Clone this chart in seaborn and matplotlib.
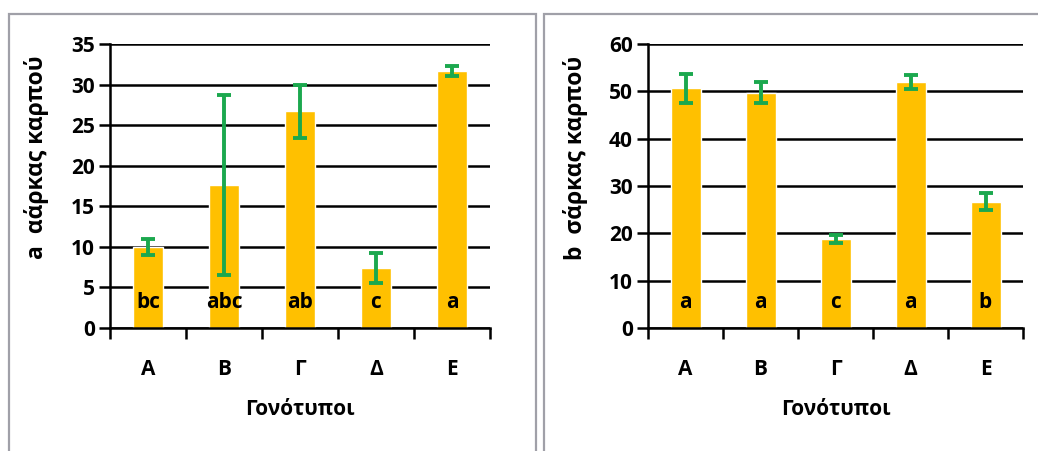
import matplotlib
matplotlib.use("Agg")
import matplotlib.pyplot as plt
import matplotlib.transforms as mtransforms
from matplotlib.patches import Rectangle
import seaborn as sns
import pandas as pd

genotypes = ["Α", "Β", "Γ", "Δ", "Ε"]

a_values = [10.0, 17.6, 26.7, 7.4, 31.7]
a_errors = [0.95, 11.1, 3.3, 1.85, 0.65]
a_letters = ["bc", "abc", "ab", "c", "a"]

b_values = [50.6, 49.7, 18.8, 51.9, 26.7]
b_errors = [3.0, 2.2, 0.9, 1.5, 1.8]
b_letters = ["a", "a", "c", "a", "b"]

sns.set_theme(style="white")
plt.rcParams["font.family"] = ["Open Sans", "DejaVu Sans"]
plt.rcParams["font.weight"] = "bold"

bar_color = "#FFC000"
err_color = "#1BA84E"

fig = plt.figure(figsize=(10.38, 4.51), dpi=100)

# grey panel frames
W, H = 1038, 451
for x0, x1 in [(9, 536), (544, 1045)]:
    fig.patches.append(Rectangle((x0 / W, -0.05), (x1 - x0) / W, 1.05 - 14 / H,
                                 transform=fig.transFigure, fill=False,
                                 edgecolor="#A0A0A8", linewidth=1.6))

panels = [
    ([110 / W, 1 - 328 / H, 380 / W, 284 / H], a_values, a_errors, a_letters,
     35, 5, "a  αάρκας καρπού", -0.16),
    ([648 / W, 1 - 328 / H, 375 / W, 284 / H], b_values, b_errors, b_letters,
     60, 10, "b  σάρκας καρπού", -0.16),
]

for rect, vals, errs, letters, ymax, step, ylabel, lx in panels:
    ax = fig.add_axes(rect)
    df = pd.DataFrame({"Γονότυπος": genotypes, "τιμή": vals})
    sns.barplot(data=df, x="Γονότυπος", y="τιμή", color=bar_color, saturation=1,
                width=0.4, errorbar=None, ax=ax, zorder=3)
    ax.errorbar(range(len(vals)), vals, yerr=errs, fmt="none", ecolor=err_color,
                elinewidth=2.8, capsize=5, capthick=2.8, zorder=4)

    ax.set_ylim(0, ymax)
    ax.set_xlim(-0.5, len(vals) - 0.5)
    ax.set_yticks(range(0, ymax + 1, step))
    ax.yaxis.grid(True, color="black", linewidth=1.8, zorder=1)
    ax.set_axisbelow(True)
    for s in ["top", "right"]:
        ax.spines[s].set_visible(False)
    for s in ["left", "bottom"]:
        ax.spines[s].set_color("black")
        ax.spines[s].set_linewidth(1.8)
        ax.spines[s].set_zorder(5)

    ax.tick_params(axis="y", direction="out", length=8, width=1.8, color="black",
                   labelsize=15, pad=3, left=True)
    ax.tick_params(axis="x", which="major", length=0, labelsize=15, pad=22)
    ax.set_xticks([i - 0.5 for i in range(len(vals) + 1)], minor=True)
    ax.tick_params(axis="x", which="minor", direction="out", length=8, width=1.8,
                   color="black", bottom=True)
    for lab in ax.get_xticklabels() + ax.get_yticklabels():
        lab.set_fontweight("bold")
        lab.set_color("black")

    ax.set_xlabel("Γονότυποι", fontsize=15, fontweight="bold", color="black")
    ax.xaxis.set_label_coords(0.5, -0.25)
    ax.set_ylabel(ylabel, fontsize=16.5, fontweight="bold", color="black")
    ax.yaxis.set_label_coords(lx, 0.6)

    trans = mtransforms.blended_transform_factory(ax.transData, ax.transAxes)
    for i, t in enumerate(letters):
        ax.text(i, 0.09, t, transform=trans, ha="center", va="center",
                fontsize=15, fontweight="bold", color="black", zorder=6)

fig.savefig("out.png", dpi=100)
